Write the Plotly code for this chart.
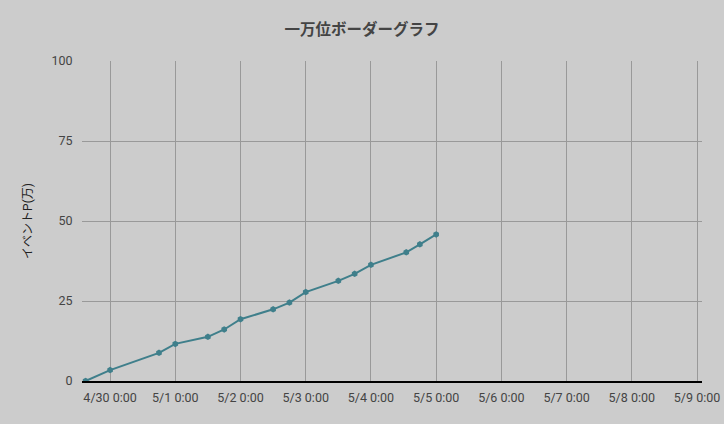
import plotly.graph_objects as go

# 一万位ボーダー推移 (値は画像から読み取り)
times = [
    "2022-04-29 15:00", "2022-04-30 00:00", "2022-04-30 18:00",
    "2022-05-01 00:00", "2022-05-01 12:00", "2022-05-01 18:00",
    "2022-05-02 00:00", "2022-05-02 12:00", "2022-05-02 18:00",
    "2022-05-03 00:00", "2022-05-03 12:00", "2022-05-03 18:00",
    "2022-05-04 00:00", "2022-05-04 13:00", "2022-05-04 18:00",
    "2022-05-05 00:00",
]
points = [0, 3.4, 8.8, 11.6, 13.8, 16.1, 19.3, 22.4, 24.5,
          27.8, 31.3, 33.5, 36.3, 40.2, 42.7, 45.8]

y_ticks = [0, 25, 50, 75, 100]

LINE_COLOR = "#3f7f8b"
TEXT_COLOR = "#444444"
GRID_COLOR = "#999999"

fig = go.Figure()
fig.add_trace(go.Scatter(
    x=times, y=points,
    mode="lines+markers",
    line=dict(color=LINE_COLOR, width=2),
    marker=dict(color=LINE_COLOR, size=6.5, symbol="hexagon"),
    hoverinfo="x+y",
))

fig.update_layout(
    width=724, height=424,
    title=dict(text="<b>一万位ボーダーグラフ</b>", x=0.5, xanchor="center",
               y=0.93, yanchor="middle",
               font=dict(size=15.5, color=TEXT_COLOR)),
    paper_bgcolor="#cccccc",
    plot_bgcolor="#cccccc",
    margin=dict(l=82, r=22, t=61, b=43),
    showlegend=False,
    font=dict(family="Roboto, 'Noto Sans CJK JP', sans-serif", size=12.5, color=TEXT_COLOR),
    xaxis=dict(
        type="date",
        range=["2022-04-29 13:40", "2022-05-09 01:50"],
        dtick=86400000,
        tick0="2022-04-30",
        tickformat="%-m/%-d %-H:%M",
        showgrid=True, gridcolor=GRID_COLOR, gridwidth=1,
        showline=True, linecolor="#000000", linewidth=1.5,
        ticks="outside", ticklen=4, tickcolor="rgba(0,0,0,0)",
        zeroline=False,
        automargin=False,
    ),
    yaxis=dict(
        range=[0, 100],
        tickvals=y_ticks,
        showgrid=True, gridcolor=GRID_COLOR, gridwidth=1,
        zeroline=False,
        ticks="outside", ticklen=6, tickcolor="rgba(0,0,0,0)",
        automargin=False,
        title=dict(text="イベントP(万)", standoff=16,
                   font=dict(size=12, color="#222222")),
    ),
)

fig.write_html("out.html", config={"displayModeBar": False},
               post_script="document.body.style.margin='0';")
